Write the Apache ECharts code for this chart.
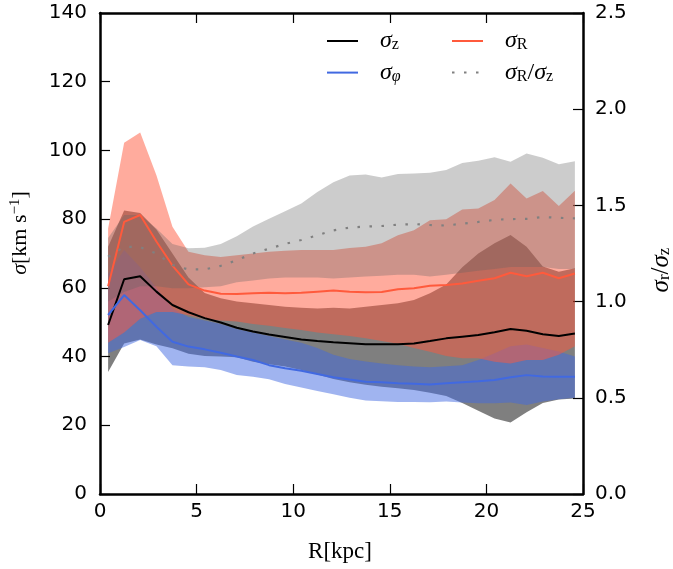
<!DOCTYPE html>
<html>
<head>
<meta charset="utf-8">
<script src="https://cdn.jsdelivr.net/npm/echarts@6/dist/echarts.min.js"></script>
<style>html,body{margin:0;padding:0;background:#fff}#c{width:673px;height:569px}</style>
</head>
<body>
<div id="c"></div>
<script>
// radial bin centres [kpc]
const R = [0.42,1.25,2.08,2.92,3.75,4.58,5.42,6.25,7.08,7.92,8.75,9.58,10.42,11.25,12.08,12.92,13.75,14.58,15.42,16.25,17.08,17.92,18.75,19.58,20.42,21.25,22.08,22.92,23.75,24.58];

// sigma_z median and band
const sigZ   = [49.2,62.5,63.4,58.9,55.0,52.9,51.2,49.9,48.4,47.3,46.4,45.7,45.0,44.5,44.2,43.9,43.6,43.6,43.6,43.8,44.5,45.3,45.8,46.3,47.1,48.0,47.5,46.5,46.0,46.7];
const sigZLo = [35.5,43.8,45.0,43.5,42.4,40.8,40.2,40.0,39.8,38.5,37.8,37.1,36.1,34.8,33.5,32.5,31.8,31.2,30.8,30.3,29.5,28.5,26.5,24.2,22.0,20.8,23.8,26.5,27.5,27.8];
const sigZHi = [72.0,82.5,81.8,77.0,70.0,63.0,58.5,57.0,56.0,55.5,55.0,54.5,54.2,54.0,54.2,54.0,54.5,55.0,55.5,56.5,58.4,61.0,66.0,70.0,73.0,75.4,72.0,66.2,64.7,65.7];

// sigma_R median and band
const sigR   = [60.5,79.2,81.2,73.5,66.5,61.0,59.2,58.3,58.2,58.4,58.6,58.4,58.6,58.9,59.2,58.9,58.7,58.8,59.6,59.9,60.6,60.8,61.3,62.1,62.8,64.4,63.4,64.4,62.8,64.2];
const sigRLo = [44.0,47.0,51.0,53.0,53.0,52.0,51.0,50.5,50.2,49.5,49.0,48.3,47.7,47.0,46.5,46.0,45.3,44.5,43.7,42.5,41.4,40.2,39.5,39.5,38.5,38.0,39.0,39.0,40.5,43.0];
const sigRHi = [77.3,102.2,105.2,92.8,77.8,70.5,69.5,69.0,69.5,70.0,70.5,70.8,71.0,71.0,71.0,71.6,72.0,73.0,75.3,76.8,79.7,80.0,82.8,83.1,85.6,90.4,86.0,88.2,83.8,88.3];

// sigma_phi median and band
const sigPhi   = [52.1,57.9,53.5,48.7,44.3,42.9,42.1,41.1,40.0,39.0,37.5,36.6,35.9,34.9,34.0,33.3,32.7,32.5,32.2,32.1,31.9,32.2,32.5,32.8,33.2,34.0,34.6,34.2,34.1,34.1];
const sigPhiLo = [41.0,42.8,44.8,43.0,37.5,37.1,36.9,36.1,34.6,34.1,33.4,32.0,31.0,30.0,29.0,28.0,27.2,27.0,26.8,26.8,26.7,26.9,26.6,26.4,26.4,26.6,25.9,26.9,27.6,28.0];
const sigPhiHi = [64.0,71.0,66.0,60.0,54.0,51.5,50.5,49.5,48.0,47.0,46.0,45.0,44.0,42.5,40.5,39.3,38.6,38.0,37.5,37.1,36.9,37.2,37.5,39.0,41.0,43.0,43.5,42.5,41.5,40.0];

// sigma_R / sigma_z median and band (right axis)
const ratio   = [1.233,1.285,1.283,1.25,1.19,1.167,1.167,1.186,1.215,1.25,1.275,1.30,1.32,1.345,1.37,1.385,1.39,1.393,1.40,1.403,1.398,1.395,1.405,1.414,1.425,1.429,1.43,1.44,1.435,1.433];
const ratioLo = [1.00,1.05,1.08,1.08,1.07,1.07,1.075,1.08,1.10,1.11,1.12,1.125,1.125,1.125,1.12,1.125,1.13,1.135,1.14,1.14,1.13,1.14,1.15,1.16,1.17,1.18,1.18,1.18,1.17,1.17];
const ratioHi = [1.33,1.45,1.45,1.38,1.30,1.277,1.28,1.30,1.34,1.39,1.43,1.47,1.51,1.57,1.62,1.655,1.66,1.645,1.663,1.666,1.67,1.684,1.72,1.732,1.75,1.727,1.77,1.748,1.714,1.73];

// axis ticks
const xTicks = [0,5,10,15,20,25];
const yLeftTicks = [0,20,40,60,80,100,120,140];
const yRightTicks = [0.0,0.5,1.0,1.5,2.0,2.5];

const pairs = (arr) => R.map((r, i) => [r, arr[i]]);

function band(lo, hi, color, yIdx) {
  return {
    type: 'custom', coordinateSystem: 'cartesian2d', xAxisIndex: 0, yAxisIndex: yIdx, silent: true, z: 1, clip: false,
    data: R.map((r, i) => [r, lo[i], hi[i]]),
    encode: { x: 0, y: [1, 2] },
    renderItem: function (params, api) {
      if (params.dataIndex !== 0) return null;
      const pts = [];
      for (let i = 0; i < R.length; i++) pts.push(api.coord([R[i], lo[i]]));
      for (let i = R.length - 1; i >= 0; i--) pts.push(api.coord([R[i], hi[i]]));
      return { type: 'polygon', shape: { points: pts }, style: { fill: color, stroke: null } };
    }
  };
}

const serif = "'Liberation Serif', 'DejaVu Serif', serif";
const richLeg = {
  s: { fontFamily: serif, fontStyle: 'italic', fontSize: 24, lineHeight: 24, color: '#000' },
  sub: { fontFamily: serif, fontSize: 16, lineHeight: 13, verticalAlign: 'bottom', color: '#000' },
  subi: { fontFamily: serif, fontStyle: 'italic', fontSize: 16, lineHeight: 13, verticalAlign: 'bottom', color: '#000' },
  n: { fontFamily: serif, fontSize: 24, lineHeight: 24, color: '#000' }
};
const legLabels = {
  'sz': '{s|σ}{sub|z}',
  'sphi': '{s|σ}{subi|φ}',
  'sR': '{s|σ}{sub|R}',
  'ratio': '{s|σ}{sub|R}{n|/}{s|σ}{sub|z}'
};

const axisCommon = {
  axisLine: { show: true, onZero: false, lineStyle: { color: '#000', width: 2.5 } },
  axisTick: { show: true, inside: true, length: 10, lineStyle: { color: '#000', width: 1.2 } },
  minorTick: { show: false },
  splitLine: { show: false },
  axisLabel: { fontFamily: 'DejaVu Sans', fontSize: 20, color: '#000' }
};

const legendCommon = {
  top: 29, orient: 'vertical', itemWidth: 31, itemHeight: 12, itemGap: 7.6, padding: 0,
  formatter: n => legLabels[n], selectedMode: false,
  itemStyle: { opacity: 0 },
  textStyle: { padding: [0, 0, 0, 17], rich: richLeg }
};

const chart = echarts.init(document.getElementById('c'), null, { renderer: 'canvas' });
chart.setOption({
  animation: false,
  backgroundColor: '#fff',
  grid: { left: 100, right: 90, top: 13, bottom: 75, containLabel: false },
  xAxis: [
    Object.assign({}, axisCommon, { type: 'value', min: xTicks[0], max: xTicks[xTicks.length - 1], interval: 5, position: 'bottom',
      axisLabel: Object.assign({}, axisCommon.axisLabel, { margin: 8 }) }),
    Object.assign({}, axisCommon, { type: 'value', min: xTicks[0], max: xTicks[xTicks.length - 1], interval: 5, position: 'top',
      axisLabel: { show: false } })
  ],
  yAxis: [
    Object.assign({}, axisCommon, { type: 'value', min: yLeftTicks[0], max: yLeftTicks[yLeftTicks.length - 1], interval: 20, position: 'left',
      axisLabel: Object.assign({}, axisCommon.axisLabel, { margin: 13 }) }),
    Object.assign({}, axisCommon, { type: 'value', min: yRightTicks[0], max: yRightTicks[yRightTicks.length - 1], interval: 0.5, position: 'right',
      axisLabel: Object.assign({}, axisCommon.axisLabel, { margin: 12, formatter: v => v.toFixed(1) }) })
  ],
  legend: [
    Object.assign({}, legendCommon, { left: 326, data: ['sz', 'sphi'] }),
    Object.assign({}, legendCommon, { left: 451, data: ['sR', 'ratio'] })
  ],
  graphic: [
    { type: 'text', x: 20, y: 233, rotation: Math.PI / 2,
      style: { text: '{s|σ}{n|[km s}{sup|−1}{n|]}', align: 'center', verticalAlign: 'middle',
        rich: { s: { fontFamily: serif, fontStyle: 'italic', fontSize: 22, lineHeight: 24 },
                n: { fontFamily: serif, fontSize: 22, lineHeight: 24 },
                sup: { fontFamily: serif, fontSize: 15, lineHeight: 12, verticalAlign: 'top' } } } },
    { type: 'text', x: 661, y: 270, rotation: Math.PI / 2,
      style: { text: '{s|σ}{sub|r}{n|/}{s|σ}{sub|z}', align: 'center', verticalAlign: 'middle',
        rich: { s: { fontFamily: serif, fontStyle: 'italic', fontSize: 25, lineHeight: 25 },
                n: { fontFamily: serif, fontSize: 25, lineHeight: 25 },
                sub: { fontFamily: serif, fontSize: 17, lineHeight: 13, verticalAlign: 'bottom' } } } },
    { type: 'text', x: 340, y: 552,
      style: { text: 'R[kpc]', align: 'center', verticalAlign: 'middle', fontFamily: serif, fontSize: 23, fill: '#000' } }
  ],
  series: [
    band(sigZLo, sigZHi, 'rgba(0,0,0,0.5)', 0),
    band(sigPhiLo, sigPhiHi, 'rgba(65,105,225,0.5)', 0),
    band(sigRLo, sigRHi, 'rgba(255,88,60,0.5)', 0),
    band(ratioLo, ratioHi, 'rgba(100,100,100,0.33)', 1),
    { name: 'sz', type: 'line', data: pairs(sigZ), symbol: 'none', z: 3,
      lineStyle: { color: '#000', width: 2 }, itemStyle: { color: '#000' } },
    { name: 'sR', type: 'line', data: pairs(sigR), symbol: 'none', z: 3,
      lineStyle: { color: '#ff5a3c', width: 2 }, itemStyle: { color: '#ff5a3c' } },
    { name: 'sphi', type: 'line', data: pairs(sigPhi), symbol: 'none', z: 3,
      lineStyle: { color: '#4169e1', width: 2 }, itemStyle: { color: '#4169e1' } },
    { name: 'ratio', type: 'line', yAxisIndex: 1, data: pairs(ratio), symbol: 'none', z: 3,
      lineStyle: { color: '#808080', width: 2.2, type: [2.5, 9.5] }, itemStyle: { color: '#808080' } }
  ]
});
</script>
</body>
</html>
